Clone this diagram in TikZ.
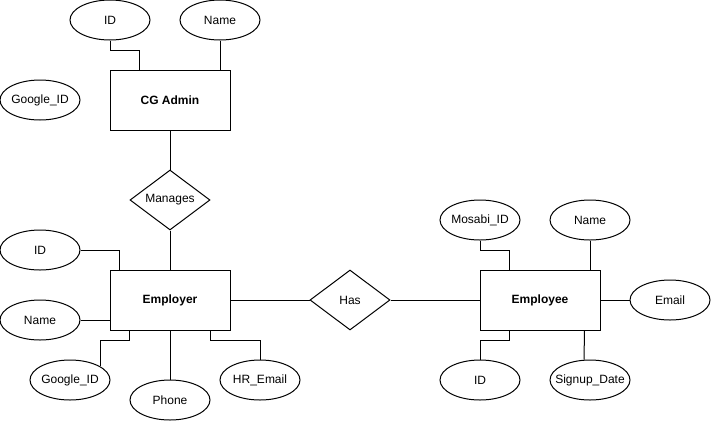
\documentclass[tikz,border=0pt]{standalone}
\usepackage{fontspec}
\setmainfont{Liberation Sans}
\usetikzlibrary{shapes.geometric}
\begin{document}
\begin{tikzpicture}[x=1pt,y=-1pt,line width=1pt,
  every node/.style={font=\fontsize{12}{14}\selectfont},
  entity/.style={draw,rectangle,minimum width=120pt,minimum height=60pt,inner sep=0pt,font=\fontsize{12}{14}\selectfont\bfseries},
  attr/.style={draw,ellipse,minimum width=80pt,minimum height=40pt,inner xsep=-15pt,inner ysep=0pt},
  rel/.style={draw,diamond,aspect=1.333,minimum width=80pt,minimum height=60pt,inner sep=-5pt},
  conn/.style={draw,line width=1pt}]
\useasboundingbox (0,0) rectangle (711,421);
% CG Admin
\node[entity] (admin) at (170,100) {CG Admin};
\node[attr] (aid) at (110,20) {ID};
\node[attr] (aname) at (220,20) {Name};
\node[attr] (agid) at (40,100) {Google\_ID};
% Manages
\node[rel] (manages) at (170,200) {Manages};
% Employer
\node[entity] (employer) at (170,300) {Employer};
\node[attr] (eid) at (40,250) {ID};
\node[attr] (ename) at (40,320) {Name};
\node[attr] (egid) at (70,380) {Google\_ID};
\node[attr] (phone) at (170,400) {Phone};
\node[attr] (hr) at (260,380) {HR\_Email};
% Has
\node[rel] (has) at (350,300) {Has};
% Employee
\node[entity] (employee) at (540,300) {Employee};
\node[attr] (mos) at (480,220) {Mosabi\_ID};
\node[attr] (ename2) at (590,220) {Name};
\node[attr] (email) at (670,300) {Email};
\node[attr] (eeid) at (480,380) {ID};
\node[attr] (signup) at (590,380) {Signup\_Date};
% connectors
\draw[conn] (aid.south) -- ++(0,10) -| ([xshift=30pt]admin.north west);
\draw[conn] (aname.south) -- (aname.south |- admin.north);
\draw[conn] (admin.south) -- (manages.north);
\draw[conn] (manages.south) -- (employer.north);
\draw[conn] (eid.east) -| ([xshift=10pt]employer.north west);
\draw[conn] (ename.east) -- (ename.east -| employer.west);
\draw[conn] ([xshift=20pt]employer.south west) -- ++(0,10) -| (egid.24);
\draw[conn] (employer.south) -- (phone.north);
\draw[conn] ([xshift=-20pt]employer.south east) -- ++(0,10) -| (hr.north);
\draw[conn] (employer.east) -- (has.west);
\draw[conn] (has.east) -- (employee.west);
\draw[conn] (mos.south) -- ++(0,10) -| ([xshift=30pt]employee.north west);
\draw[conn] (ename2.south) -- (ename2.south |- employee.north);
\draw[conn] (employee.east) -- (email.west);
\draw[conn] ([xshift=30pt]employee.south west) -- ++(0,10) -| (eeid.north);
\draw[conn] ([xshift=-16pt]employee.south east) -- ([xshift=-6pt]signup.north);
\end{tikzpicture}
\end{document}
